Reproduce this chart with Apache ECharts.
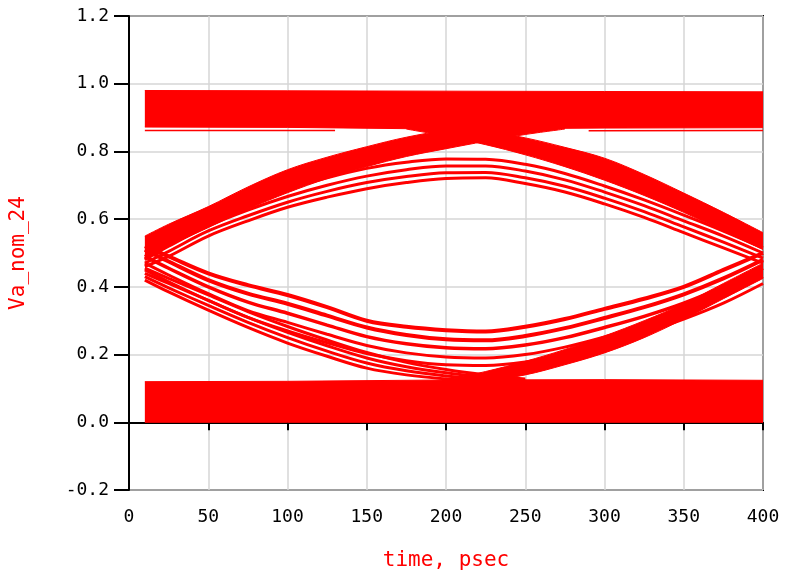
<!DOCTYPE html>
<html>
<head>
<meta charset="utf-8">
<script src="https://cdn.jsdelivr.net/npm/echarts@6/dist/echarts.min.js"></script>
<style>
  html, body { margin: 0; padding: 0; background: #fff; }
  #chart { width: 792px; height: 576px; }
</style>
</head>
<body>
<div id="chart"></div>
<script>
// ---- Tick labels / axes ----
const xTicks = [0, 50, 100, 150, 200, 250, 300, 350, 400];
const yTicks = [-0.2, 0.0, 0.2, 0.4, 0.6, 0.8, 1.0, 1.2];
const xName = "time, psec";
const yName = "Va_nom_24";

// ---- Common sample times (psec) ----
const T = [10, 25, 50, 75, 100, 125, 150, 175, 200, 225, 250, 275, 300, 325, 350, 375, 400];

// ---- Flat "1" level band ----
const highT  = [10, 100, 200, 300, 400];
const highLo = [0.872, 0.871, 0.866, 0.869, 0.870];
const highHi = [0.980, 0.979, 0.978, 0.977, 0.976];
// lowest trace of the "1" level, slightly apart from the band
const highEdgeT = [10, 130];
const highEdge  = [0.862, 0.862];
const highEdgeRT = [290, 400];
const highEdgeR  = [0.861, 0.862];

// ---- Flat "0" level band ----
const lowT  = [10, 100, 200, 300, 400];
const lowLo = [0.0, 0.0, 0.0, 0.0, 0.0];
const lowHi = [0.120, 0.121, 0.125, 0.126, 0.124];

// ---- Traces rising into the "1" band ----
const riseHiT   = [10, 25, 50, 75, 100, 125, 150, 175, 200, 225, 250, 275];
const riseHiTop = [0.550, 0.585, 0.637, 0.695, 0.746, 0.783, 0.814, 0.842, 0.862, 0.872, 0.875, 0.875];
const riseHiBot = [0.480, 0.520, 0.575, 0.630, 0.678, 0.720, 0.755, 0.785, 0.808, 0.830, 0.850, 0.866];

// ---- Traces falling out of the "1" band ----
const fallHiT   = [175, 200, 225, 250, 275, 300, 325, 350, 375, 400];
const fallHiTop = [0.872, 0.870, 0.860, 0.840, 0.812, 0.780, 0.732, 0.677, 0.620, 0.560];
const fallHiBot = [0.866, 0.845, 0.820, 0.790, 0.755, 0.715, 0.670, 0.620, 0.565, 0.510];

// ---- Traces rising out of the "0" band ----
const riseLoT   = [200, 225, 250, 275, 300, 325, 350, 375, 400];
const riseLoBot = [0.118, 0.122, 0.140, 0.170, 0.205, 0.250, 0.305, 0.365, 0.425];
const riseLoTop = [0.125, 0.150, 0.180, 0.215, 0.255, 0.300, 0.350, 0.410, 0.470];

// ---- Traces falling into the "0" band (separate strands) ----
const fallLoT = [10, 25, 50, 75, 100, 125, 150, 175, 200, 225, 250];
const fallLo1 = [0.420, 0.385, 0.331, 0.280, 0.234, 0.195, 0.160, 0.140, 0.128, 0.121, 0.118];
const fallLo2 = [0.430, 0.397, 0.345, 0.295, 0.250, 0.210, 0.175, 0.152, 0.137, 0.127, 0.120];
const fallLo3 = [0.440, 0.410, 0.360, 0.310, 0.266, 0.226, 0.190, 0.164, 0.146, 0.133, 0.124];
const fallLo4 = [0.455, 0.425, 0.376, 0.327, 0.283, 0.243, 0.206, 0.177, 0.156, 0.140, 0.128];

// ---- Upper inner arcs (eye top) ----
const arcUp1 = [0.460, 0.490, 0.550, 0.595, 0.635, 0.665, 0.690, 0.708, 0.720, 0.722, 0.705, 0.680, 0.645, 0.605, 0.560, 0.515, 0.470];
const arcUp2 = [0.470, 0.505, 0.565, 0.610, 0.650, 0.682, 0.708, 0.726, 0.737, 0.738, 0.722, 0.697, 0.662, 0.622, 0.577, 0.532, 0.485];
const arcUp3 = [0.480, 0.520, 0.580, 0.627, 0.667, 0.700, 0.727, 0.746, 0.757, 0.757, 0.742, 0.716, 0.680, 0.640, 0.595, 0.550, 0.500];
const arcUp4 = [0.490, 0.535, 0.595, 0.645, 0.688, 0.722, 0.750, 0.768, 0.778, 0.777, 0.762, 0.735, 0.698, 0.657, 0.612, 0.565, 0.515];

// ---- Lower inner arcs (eye bottom) ----
const arcLo1 = [0.520, 0.490, 0.440, 0.405, 0.376, 0.340, 0.300, 0.282, 0.272, 0.268, 0.282, 0.305, 0.335, 0.365, 0.400, 0.450, 0.500];
const arcLo2 = [0.510, 0.475, 0.420, 0.380, 0.350, 0.315, 0.280, 0.258, 0.245, 0.242, 0.255, 0.278, 0.308, 0.340, 0.378, 0.425, 0.480];
const arcLo3 = [0.490, 0.455, 0.400, 0.355, 0.322, 0.287, 0.253, 0.232, 0.220, 0.217, 0.228, 0.250, 0.280, 0.313, 0.352, 0.400, 0.455];
const arcLo4 = [0.470, 0.435, 0.380, 0.330, 0.295, 0.260, 0.227, 0.205, 0.193, 0.190, 0.200, 0.222, 0.252, 0.287, 0.327, 0.375, 0.430];
const arcLo5 = [0.450, 0.415, 0.360, 0.310, 0.270, 0.235, 0.203, 0.182, 0.170, 0.168, 0.178, 0.200, 0.230, 0.265, 0.305, 0.352, 0.410];

const RED = '#ff0000';

function pairs(ts, vs) { return ts.map((t, i) => [t, vs[i]]); }

// A filled band between two edges, built as two stacked line series.
// Data columns are [value, time] so that the stacked dimension is the value (y).
function band(name, ts, lo, hi, smooth) {
  const common = {
    type: 'line', stack: name, smooth: smooth, showSymbol: false, silent: true, z: 2,
    dimensions: ['v', 't'], encode: { x: 't', y: 'v' },
    lineStyle: { color: RED, width: 1 }, itemStyle: { color: RED }
  };
  const base = Object.assign({}, common, { name: name + '_lo', data: ts.map((t, i) => [lo[i], t]) });
  const top = Object.assign({}, common, {
    name: name, data: ts.map((t, i) => [hi[i] - lo[i], t]),
    areaStyle: { color: RED, opacity: 1 }
  });
  return [base, top];
}

function trace(ts, vs, w, smooth) {
  return {
    type: 'line', data: pairs(ts, vs), smooth: smooth === undefined ? 0.35 : smooth,
    showSymbol: false, silent: true,
    lineStyle: { color: RED, width: w || 3 }, itemStyle: { color: RED }, z: 3
  };
}

const series = [].concat(
  band('high', highT, highLo, highHi, false),
  band('low', lowT, lowLo, lowHi, false),
  band('riseHi', riseHiT, riseHiBot, riseHiTop, 0.35),
  band('fallHi', fallHiT, fallHiBot, fallHiTop, 0.35),
  band('riseLo', riseLoT, riseLoBot, riseLoTop, 0.35),
  [
    trace(highEdgeT, highEdge, 1.5, false), trace(highEdgeRT, highEdgeR, 1.5, false),
    trace(fallLoT, fallLo1), trace(fallLoT, fallLo2), trace(fallLoT, fallLo3), trace(fallLoT, fallLo4),
    trace(T, arcUp1), trace(T, arcUp2), trace(T, arcUp3), trace(T, arcUp4),
    trace(T, arcLo1, 4), trace(T, arcLo2, 4), trace(T, arcLo3, 3.5), trace(T, arcLo4), trace(T, arcLo5)
  ]
);

const chart = echarts.init(document.getElementById('chart'), null, { renderer: 'canvas' });
const FONT = '"DejaVu Sans Mono", "Liberation Mono", monospace';
chart.setOption({
  animation: false,
  backgroundColor: '#ffffff',
  grid: { left: 129, right: 29, top: 16, bottom: 86, show: true, borderColor: '#000', borderWidth: 2, backgroundColor: 'transparent' },
  xAxis: {
    type: 'value', min: xTicks[0], max: xTicks[xTicks.length - 1], interval: 50,
    name: xName, nameLocation: 'middle', nameGap: 60,
    nameTextStyle: { color: RED, fontFamily: FONT, fontSize: 21 },
    axisLine: { show: true, lineStyle: { color: '#000', width: 2 } },
    axisTick: { show: true, inside: false, length: 8, lineStyle: { color: '#000', width: 2 } },
    axisLabel: { color: '#000', fontFamily: FONT, fontSize: 18, margin: 18 },
    splitLine: { show: true, lineStyle: { color: '#d6d6d6', width: 1.5 } }
  },
  yAxis: {
    type: 'value', min: yTicks[0], max: yTicks[yTicks.length - 1], interval: 0.2,
    name: yName, nameLocation: 'middle', nameGap: 100, nameRotate: 90,
    nameTextStyle: { color: RED, fontFamily: FONT, fontSize: 21 },
    axisLine: { show: true, lineStyle: { color: '#000', width: 2 } },
    axisTick: { show: true, inside: false, length: 15, lineStyle: { color: '#000', width: 2 } },
    axisLabel: { color: '#000', fontFamily: FONT, fontSize: 18, margin: 20,
      formatter: function (v) { return v.toFixed(1); } },
    splitLine: { show: true, lineStyle: { color: '#d6d6d6', width: 1.5 } }
  },
  series: series
});
</script>
</body>
</html>
